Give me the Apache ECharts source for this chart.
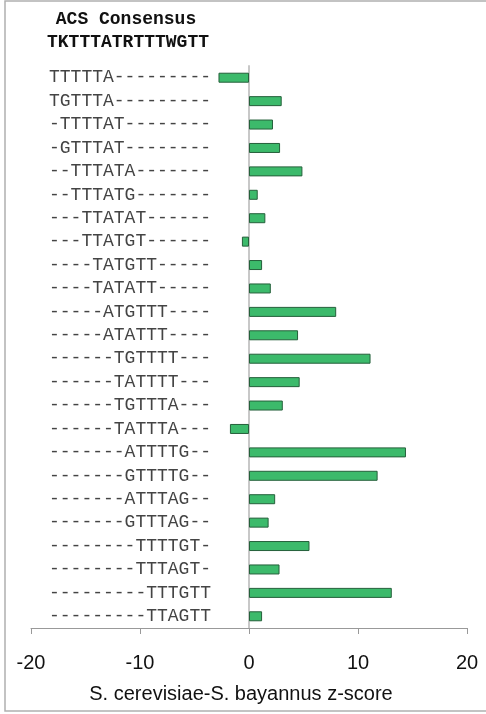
<!DOCTYPE html>
<html><head><meta charset="utf-8">
<script src="https://cdn.jsdelivr.net/npm/echarts@6/dist/echarts.min.js"></script>
<style>html,body{margin:0;padding:0;background:#fff}#c{width:486px;height:714px}</style>
</head><body><div id="c"></div>
<script>
const titleLines = ['ACS Consensus', 'TKTTTATRTTTWGTT'];
const categories = [
 'TTTTTA---------','TGTTTA---------','-TTTTAT--------','-GTTTAT--------',
 '--TTTATA-------','--TTTATG-------','---TTATAT------','---TTATGT------',
 '----TATGTT-----','----TATATT-----','-----ATGTTT----','-----ATATTT----',
 '------TGTTTT---','------TATTTT---','------TGTTTA---','------TATTTA---',
 '-------ATTTTG--','-------GTTTTG--','-------ATTTAG--','-------GTTTAG--',
 '--------TTTTGT-','--------TTTAGT-','---------TTTGTT','---------TTAGTT'];
const zscores = [-2.8,3.0,2.2,2.85,4.9,0.8,1.5,-0.65,1.2,2.0,8.0,4.5,11.15,4.65,3.1,-1.75,14.4,11.8,2.4,1.8,5.55,2.8,13.1,1.2];
const xTicks = [-20,-10,0,10,20];
const xName = 'S. cerevisiae-S. bayannus z-score';

const chart = echarts.init(document.getElementById('c'), null, {renderer:'canvas'});
chart.setOption({
  animation:false,
  grid:{left:31,right:19,top:66,height:562,containLabel:false,outerBoundsMode:'none'},
  graphic:[
    {type:'rect',shape:{x:5,y:1,width:500,height:710},style:{fill:'none',stroke:'#b0b0b0',lineWidth:1.5},silent:true},
    {type:'text',x:126,y:19,style:{text:titleLines[0],font:'bold 18px "Liberation Mono"',fill:'#111',align:'center',verticalAlign:'middle'}},
    {type:'text',x:128,y:42,style:{text:titleLines[1],font:'bold 18px "Liberation Mono"',fill:'#111',align:'center',verticalAlign:'middle'}}
  ],
  xAxis:{type:'value',min:xTicks[0],max:xTicks[xTicks.length-1],interval:10,
    splitLine:{show:false},
    axisLine:{show:true,onZero:false,lineStyle:{color:'#999',width:1}},
    axisTick:{show:true,inside:false,length:6,lineStyle:{color:'#999'}},
    axisLabel:{fontSize:20,color:'#111',fontFamily:'Liberation Sans',margin:25},
    name:xName,nameLocation:'middle',nameGap:56,
    nameTextStyle:{fontSize:20,color:'#111',fontFamily:'Liberation Sans',padding:[0,16,0,0]}
  },
  yAxis:{type:'category',data:categories,inverse:true,offset:-218,
    axisLine:{show:true,onZero:false,lineStyle:{color:'#c8c8c8',width:2}},
    axisTick:{show:false},
    axisLabel:{fontSize:18,color:'#444',fontFamily:'Liberation Mono',margin:38,interval:0}
  },
  series:[{type:'bar',data:zscores,barWidth:10,
    itemStyle:{color:'#3cba6b',borderColor:'#25603b',borderWidth:1}}]
});
</script></body></html>
